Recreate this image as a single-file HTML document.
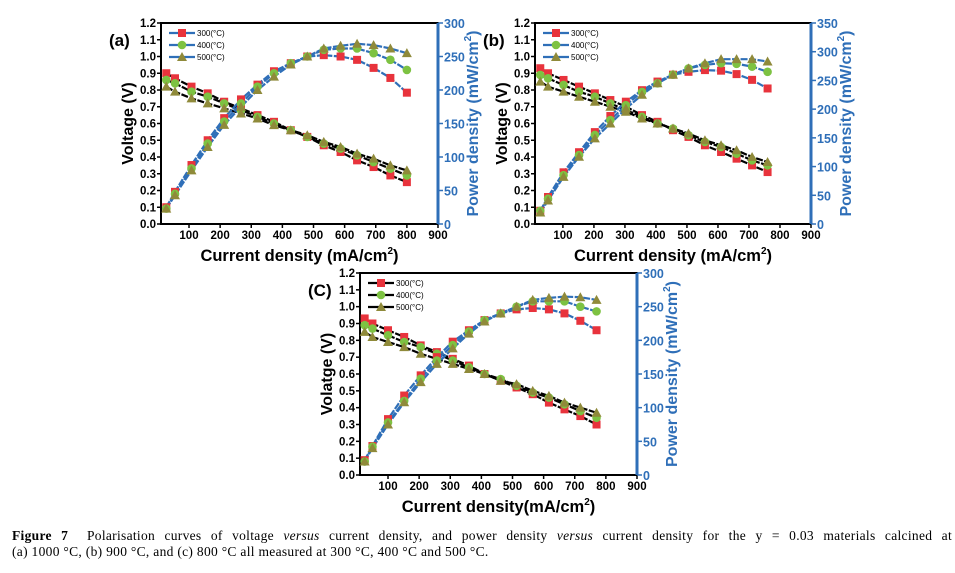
<!DOCTYPE html>
<html><head><meta charset="utf-8">
<style>
body{margin:0;background:#fff;width:955px;height:573px;overflow:hidden;}
svg{position:absolute;left:0;top:0;font-family:"Liberation Sans",sans-serif;}
.cap{position:absolute;left:12px;top:528px;width:940px;font-family:"Liberation Serif",serif;font-size:13.5px;line-height:16px;color:#000;white-space:nowrap;letter-spacing:0.3px;}
.l1{display:block;text-align:justify;text-align-last:justify;white-space:normal;}
</style></head>
<body>
<svg id="fig" width="955" height="573"></svg>
<div class="cap"><span class="l1"><b>Figure 7</b>&nbsp; Polarisation curves of voltage <i>versus</i> current density, and power density <i>versus</i> current density for the y = 0.03 materials calcined at</span>(a) 1000 °C, (b) 900 °C, and (c) 800 °C all measured at 300 °C, 400 °C and 500 °C.</div>
<script>
// ---- data ----
const seriesNames = ["300(°C)","400(°C)","500(°C)"];
const xA = [27,55,108,160,213,267,320,373,427,480,533,587,640,693,747,800];
const vA300 = [.90,.87,.82,.78,.73,.69,.65,.61,.56,.52,.47,.43,.38,.34,.29,.25];
const vA400 = [.86,.84,.79,.76,.72,.68,.64,.60,.56,.52,.48,.45,.41,.37,.33,.29];
const vA500 = [.82,.79,.75,.72,.69,.66,.63,.59,.56,.53,.49,.46,.42,.39,.35,.32];
const pA300 = [25,48,88,125,158,186,208,228,240,250,252,250,245,233,218,196];
const pA400 = [23,45,83,120,153,180,205,225,240,250,260,262,262,255,245,230];
const pA500 = [23,43,80,115,148,175,200,220,238,250,262,266,269,267,262,255];
const xB = [27,52,102,152,203,253,303,355,405,455,505,558,610,660,710,760];
const vB300 = [.93,.90,.86,.82,.78,.74,.70,.65,.61,.56,.52,.47,.43,.39,.35,.31];
const vB400 = [.89,.87,.83,.79,.76,.72,.68,.64,.60,.57,.53,.49,.46,.42,.38,.35];
const vB500 = [.85,.82,.79,.76,.73,.70,.67,.63,.60,.57,.54,.50,.47,.44,.40,.37];
const pB300 = [23,47,90,125,160,188,213,233,248,260,265,268,267,261,251,236];
const pB400 = [23,44,85,120,155,181,207,230,245,260,271,277,280,279,274,265];
const pB500 = [20,41,82,117,149,175,201,225,245,260,271,280,287,287,287,283];
const xC = [25,50,100,152,205,257,308,360,410,462,513,565,617,667,718,770];
const vC300 = [.93,.90,.86,.82,.77,.73,.69,.65,.60,.56,.52,.48,.43,.39,.35,.30];
const vC400 = [.89,.87,.83,.79,.76,.72,.68,.64,.60,.57,.53,.49,.46,.42,.38,.34];
const vC500 = [.85,.82,.79,.76,.72,.69,.66,.63,.60,.56,.54,.50,.47,.43,.40,.37];
const pC300 = [22,43,83,118,148,175,198,215,230,240,246,248,246,240,229,215];
const pC400 = [20,42,78,110,143,170,193,213,230,240,250,258,258,258,250,243];
const pC500 = [20,40,75,108,138,165,188,210,228,240,250,260,263,265,264,260];
const xTicks = [100,200,300,400,500,600,700,800,900];
const vTicks = [0.0,0.1,0.2,0.3,0.4,0.5,0.6,0.7,0.8,0.9,1.0,1.1,1.2];
const pTicksA = [0,50,100,150,200,250,300];
const pTicksB = [0,50,100,150,200,250,300,350];

const NS="http://www.w3.org/2000/svg";
const svg=document.getElementById('fig');
function mk(tag,attrs,parent,text){const e=document.createElementNS(NS,tag);for(const k in attrs)e.setAttribute(k,attrs[k]);if(text!==undefined)e.textContent=text;(parent||svg).appendChild(e);return e;}
const colors=["#e8333c","#7dc242","#8f8a3a"];
const BLUE="#2f6fb8";
function marker(g,shape,x,y,c){
  let m;
  if(shape===0)m=mk('rect',{x:x-4,y:y-4,width:8,height:8,fill:c},g);
  else if(shape===1)m=mk('circle',{cx:x,cy:y,r:4.3,fill:c},g);
  else m=mk('polygon',{points:`${x},${y-5} ${x-5},${y+4} ${x+5},${y+4}`,fill:c},g);
  
  
}
function panel(cfg){
  const g=mk('g',{});
  
  
  const L=cfg.l,R=cfg.r,T=cfg.t,B=cfg.b;
  const xs=v=>L+(v-10)/(900-10)*(R-L);
  const ys=v=>B-v/1.2*(B-T);
  const ps=v=>B-v/cfg.pmax*(B-T);
  const fr=mk('rect',{x:L,y:T,width:R-L,height:B-T,fill:'none',stroke:'#000','stroke-width':2},g);
  
  const ra=mk('line',{x1:R,y1:T,x2:R,y2:B,stroke:BLUE,'stroke-width':3},g);
  
  xTicks.forEach(v=>{const x=xs(v);
    mk('line',{x1:x,y1:B,x2:x,y2:B+4,stroke:'#000','stroke-width':1.5},g);
    const t=mk('text',{x:x,y:B+15,'font-size':11.5,'font-weight':'bold','text-anchor':'middle'},g,String(v));
    });
  vTicks.forEach(v=>{const y=ys(v);
    mk('line',{x1:L-4,y1:y,x2:L,y2:y,stroke:'#000','stroke-width':1.5},g);
    const t=mk('text',{x:L-5,y:y+4,'font-size':11.5,'font-weight':'bold','text-anchor':'end'},g,v.toFixed(1));
    });
  cfg.pt.forEach(v=>{const y=ps(v);
    mk('line',{x1:R,y1:y,x2:R+5,y2:y,stroke:BLUE,'stroke-width':1.5},g);
    const t=mk('text',{x:R+6,y:y+5,'font-size':12.5,'font-weight':'bold',fill:BLUE},g,String(v));
    });
  const yt=mk('text',{x:0,y:0,'font-size':16,'font-weight':'bold','text-anchor':'middle',transform:`translate(${L-28},${(T+B)/2}) rotate(-90)`},g,cfg.ylab);
  
  const xt=mk('text',{x:(L+R)/2,y:B+37,'font-size':16.5,'font-weight':'bold','text-anchor':'middle'},g);
  
  xt.textContent=cfg.xlab;
  mk('tspan',{dy:-7,'font-size':10},xt,'2');mk('tspan',{dy:7},xt,')');
  const rt=mk('text',{x:0,y:0,'font-size':16,'font-weight':'bold','text-anchor':'middle',fill:BLUE,transform:`translate(${R+40},${(T+B)/2}) rotate(-90)`},g,'Power density (mW/cm');
  
  mk('tspan',{dy:-7,'font-size':10},rt,'2');mk('tspan',{dy:7},rt,')');
  const pl=mk('text',{x:L-52,y:T+23,'font-size':17,'font-weight':'bold'},g,cfg.label);
  
  cfg.v.forEach((vs,i)=>{
    const d=vs.map((v,j)=>(j?'L':'M')+xs(cfg.x[j]).toFixed(1)+','+ys(v).toFixed(1)).join('');
    const ln=mk('path',{d:d,fill:'none',stroke:'#000','stroke-width':2.2,'stroke-dasharray':'7 1.5'},g);
    
  });
  cfg.p.forEach((ps_,i)=>{
    const d=ps_.map((v,j)=>(j?'L':'M')+xs(cfg.x[j]).toFixed(1)+','+ps(v).toFixed(1)).join('');
    const ln=mk('path',{d:d,fill:'none',stroke:BLUE,'stroke-width':2.2,'stroke-dasharray':'7 1.5'},g);
    
  });
  cfg.v.forEach((vs,i)=>vs.forEach((v,j)=>marker(g,i,xs(cfg.x[j]),ys(v),colors[i])));
  cfg.p.forEach((p,i)=>p.forEach((v,j)=>marker(g,i,xs(cfg.x[j]),ps(v),colors[i])));
  seriesNames.forEach((n,i)=>{
    const ly=T+10+i*12, lx=L+8;
    const lg=mk('g',{},g);
    
    mk('line',{x1:lx,y1:ly,x2:lx+26,y2:ly,stroke:cfg.legC,'stroke-width':2.2},lg);
    marker(lg,i,lx+13,ly,colors[i]);
    mk('text',{x:lx+28,y:ly+3,'font-size':8},lg,n);
  });
}
panel({id:'a',label:'(a)',l:161,r:438,t:23,b:224,pmax:300,pt:pTicksA,x:xA,v:[vA300,vA400,vA500],p:[pA300,pA400,pA500],ylab:'Voltage (V)',xlab:'Current density (mA/cm',legC:BLUE});
panel({id:'b',label:'(b)',l:535,r:811,t:23,b:224,pmax:350,pt:pTicksB,x:xB,v:[vB300,vB400,vB500],p:[pB300,pB400,pB500],ylab:'Voltage (V)',xlab:'Current density (mA/cm',legC:BLUE});
panel({id:'c',label:'(C)',l:360,r:637,t:273,b:475,pmax:300,pt:pTicksA,x:xC,v:[vC300,vC400,vC500],p:[pC300,pC400,pC500],ylab:'Volatge (V)',xlab:'Current density(mA/cm',legC:'#000'});
</script>
</body></html>
